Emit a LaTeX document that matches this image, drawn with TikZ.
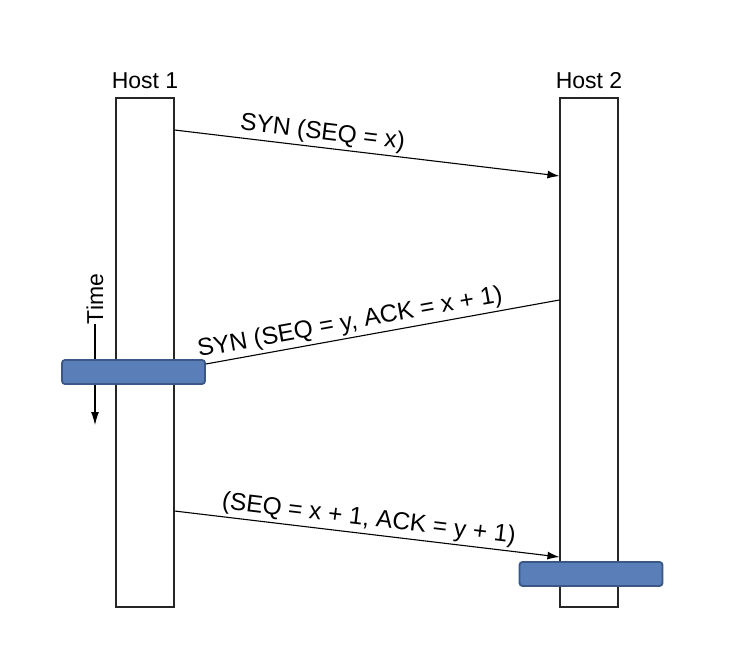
\documentclass[tikz,border=0pt]{standalone}
\usepackage{fontspec}
\setmainfont{Liberation Sans}
\usepackage{xcolor}
\usetikzlibrary{positioning,arrows.meta}
\definecolor{barfill}{RGB}{89,126,184}
\definecolor{barline}{RGB}{58,87,133}

\begin{document}
\begin{tikzpicture}[x=1pt, y=-1pt,
		host/.style={draw=black!85, line width=1.1pt, fill=white, rectangle,
				minimum width=58pt, minimum height=509pt, inner sep=0pt},
		hostname/.style={font=\fontsize{23}{26}\selectfont, inner sep=0pt},
		bar/.style={draw=barline, fill=barfill, line width=1.8pt, rectangle, rounded corners=3pt,
				minimum width=143pt, minimum height=24pt, inner sep=0pt},
		msg/.style={-{Latex[length=12pt,width=8pt]}, line width=1.1pt},
		reply/.style={line width=1.1pt},
		msglabel/.style={font=\fontsize{24.5}{28}\selectfont, sloped, above, inner sep=2.5pt},
	]
	\useasboundingbox (0,0) rectangle (736,666);
	\node[host] (h1) at (145,352.5) {};
	\node[host] (h2) at (589,352.5) {};
	\node[hostname, above=9pt of h1] (n1) {Host 1};
	\node[hostname, above=9pt of h2] (n2) {Host 2};
	% time axis
	\node[hostname, rotate=90] (time) at (95,299) {Time};
	\draw[-{Latex[length=13pt,width=8pt]}, line width=1.1pt] (time.west) -- (95,425);
	\node[bar] (b1) at (133.5,372) {};
	\node[bar] (b2) at (591,574) {};
	% message end points
	\coordinate (s1) at (h1.east |- 0,130);
	\coordinate (r1) at (h2.west |- 0,176);
	\coordinate (s2) at (h2.west |- 0,300);
	\coordinate (r2) at (b1.east |- 0,364);
	\coordinate (s3) at (h1.east |- 0,511);
	\coordinate (r3) at (h2.west |- 0,557);
	\draw[msg] (s1) -- node[msglabel, pos=0.38]{SYN (SEQ = x)} (r1);
	\draw[reply] (s2) -- node[msglabel, pos=0.585]{SYN (SEQ = y, ACK = x + 1)} (r2);
	\draw[msg] (s3) -- node[msglabel, pos=0.5]{(SEQ = x + 1, ACK = y + 1)} (r3);
\end{tikzpicture}
\end{document}
